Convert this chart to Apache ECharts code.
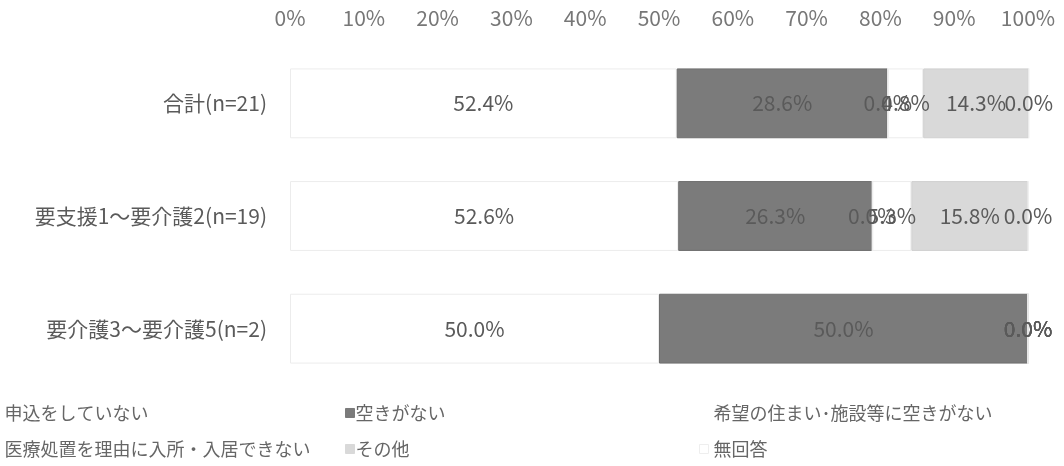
<!DOCTYPE html>
<html>
<head>
<meta charset="utf-8">
<script src="https://cdn.jsdelivr.net/npm/echarts@6/dist/echarts.min.js"></script>
<style>
html,body{margin:0;padding:0;background:#fff;}
#c{width:1064px;height:466px;}
</style>
</head>
<body>
<div id="c"></div>
<script>
var categories = ['合計(n=21)', '要支援1～要介護2(n=19)', '要介護3～要介護5(n=2)'];
var seriesNames = ['申込をしていない', '空きがない', '希望の住まい･施設等に空きがない', '医療処置を理由に入所・入居できない', 'その他', '無回答'];
var noApplication = [52.4, 52.6, 50.0];
var noVacancy = [28.6, 26.3, 50.0];
var noVacancyDesired = [0.0, 0.0, 0.0];
var medicalCare = [4.8, 5.3, 0.0];
var other = [14.3, 15.8, 0.0];
var noAnswer = [0.0, 0.0, 0.0];
var tickLabels = ['0%', '10%', '20%', '30%', '40%', '50%', '60%', '70%', '80%', '90%', '100%'];

var values = [noApplication, noVacancy, noVacancyDesired, medicalCare, other, noAnswer];
var colors = ['#ffffff', '#7b7b7b', '#ffffff', '#ffffff', '#d9d9d9', '#ffffff'];
var borders = ['#ececec', '#6e6e6e', '#ececec', '#ececec', '#d0d0d0', '#ececec'];
var FONT = '"Noto Sans CJK JP", "Noto Sans", sans-serif';

var series = seriesNames.map(function (n, i) {
  return {
    name: n,
    type: 'bar',
    stack: 'total',
    barWidth: '62%',
    clip: false,
    data: values[i],
    itemStyle: { color: colors[i], borderColor: borders[i], borderWidth: 1 },
    label: {
      show: true,
      position: 'inside',
      color: '#5a5a5a',
      fontFamily: FONT,
      fontSize: 21,
      formatter: function (p) { return p.value.toFixed(1) + '%'; }
    },
    labelLayout: { hideOverlap: false }
  };
});

var legendPos = [
  { left: -11, top: 399, pad: -4 },
  { left: 340, top: 399, pad: -4 },
  { left: 694, top: 399, pad: 0 },
  { left: -11, top: 435, pad: -4 },
  { left: 340, top: 435, pad: -4 },
  { left: 694, top: 435, pad: 0 }
];
var legends = seriesNames.map(function (n, i) {
  return {
    data: [{ name: n, icon: 'rect', itemStyle: { color: colors[i], borderColor: i === 5 ? '#eeeeee' : colors[i], borderWidth: 1 } }],
    left: legendPos[i].left,
    top: legendPos[i].top,
    itemWidth: 9,
    itemHeight: 9,
    selectedMode: false,
    textStyle: { color: '#666', fontSize: 18, fontFamily: FONT, padding: [0, 0, 0, legendPos[i].pad] }
  };
});

var chart = echarts.init(document.getElementById('c'), null, { renderer: 'canvas' });
chart.setOption({
  animation: false,
  backgroundColor: '#ffffff',
  grid: { left: 290, right: 36, top: 47, bottom: 81, containLabel: false },
  legend: legends,
  xAxis: {
    type: 'value',
    position: 'top',
    min: 0,
    max: 100,
    interval: 10,
    axisLine: { show: false },
    axisTick: { show: false },
    splitLine: { show: false },
    axisLabel: {
      color: '#777',
      fontSize: 21,
      fontFamily: FONT,
      margin: 18,
      formatter: function (v) { return tickLabels[Math.round(v / 10)]; }
    }
  },
  yAxis: {
    type: 'category',
    inverse: true,
    data: categories,
    axisLine: { show: false },
    axisTick: { show: false },
    axisLabel: { color: '#5a5a5a', fontSize: 21, fontFamily: FONT, margin: 23 }
  },
  series: series
});
</script>
</body>
</html>
